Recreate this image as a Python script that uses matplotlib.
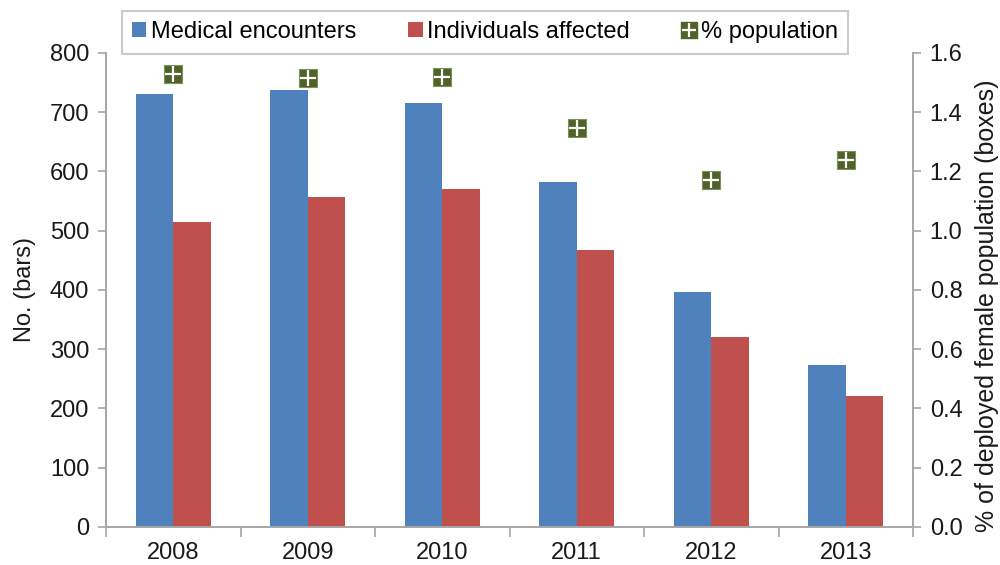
import matplotlib
matplotlib.use("Agg")
import matplotlib.pyplot as plt
import numpy as np

plt.rcParams['font.family'] = ['Liberation Sans', 'DejaVu Sans']

years = ['2008', '2009', '2010', '2011', '2012', '2013']
encounters = [731, 737, 716, 583, 396, 274]
affected = [515, 557, 571, 468, 321, 221]
pct_pop = [1.53, 1.515, 1.52, 1.345, 1.17, 1.24]

blue = '#4F81BD'
red = '#C0504D'
green = '#4F6228'
grey = '#A6A6A6'
txt = '#1A1A1A'
fs = 17

fig = plt.figure(figsize=(10, 5.65), dpi=100)
ax = fig.add_axes([0.106, 0.0673, 0.807, 0.839])
ax2 = ax.twinx()

x = np.arange(len(years))
w = 0.28
ax.bar(x - w / 2, encounters, w, color=blue, label='Medical encounters', zorder=2)
ax.bar(x + w / 2, affected, w, color=red, label='Individuals affected', zorder=2)

# boxes on the secondary axis: filled square with a white cross on top
ax2.plot(x, pct_pop, ls='none', marker='s', ms=13, mfc=green, mec='#7F8F5F', mew=0.8)
ax2.plot(x, pct_pop, ls='none', marker='+', ms=11, mec='white', mew=1.6)

ax.set_xlim(-0.5, len(years) - 0.5)
ax.set_ylim(0, 800)
ax2.set_ylim(0, 1.6)
ax.set_yticks(np.arange(0, 801, 100))
ax2.set_yticks(np.arange(0, 1.61, 0.2))
ax2.set_yticklabels(['%.1f' % v for v in np.arange(0, 1.61, 0.2)])

ax.set_xticks(x)
ax.set_xticklabels(years)
ax.set_xticks(np.arange(-0.5, len(years)), minor=True)
ax.tick_params(axis='x', which='major', length=0, pad=11, labelsize=fs, colors=txt)
ax.tick_params(axis='x', which='minor', length=7, color=grey, width=1.2)
ax.tick_params(axis='y', length=6, color=grey, width=1.2, labelsize=fs, labelcolor=txt, pad=6)
ax2.tick_params(axis='y', length=6, color=grey, width=1.2, labelsize=fs, labelcolor=txt, pad=6)

for a in (ax, ax2):
    a.spines['top'].set_visible(False)
    for s in ('left', 'right', 'bottom'):
        a.spines[s].set_color(grey)
        a.spines[s].set_linewidth(1.2)

ax.set_ylabel('No. (bars)', fontsize=fs, color=txt, labelpad=10)
ax2.set_ylabel('% of deployed female population (boxes)', fontsize=18, color=txt)
ax2.yaxis.set_label_coords(1.077, 0.466)

h1, l1 = ax.get_legend_handles_labels()
box = plt.Line2D([], [], ls='none', marker='s', ms=12, mfc=green, mec=green)
cross = plt.Line2D([], [], ls='none', marker='+', ms=10, mec='white', mew=1.6)
leg = fig.legend(h1 + [(box, cross)], l1 + ['% population'], loc='center',
                 bbox_to_anchor=(0.485, 0.943), ncol=3, fontsize=fs, frameon=True,
                 fancybox=False, edgecolor='#BFBFBF', handlelength=0.6, handleheight=0.6,
                 handletextpad=0.2, columnspacing=2.2, borderpad=0.45, borderaxespad=0)
leg.get_frame().set_linewidth(1.5)

fig.savefig('out.png', dpi=100)
